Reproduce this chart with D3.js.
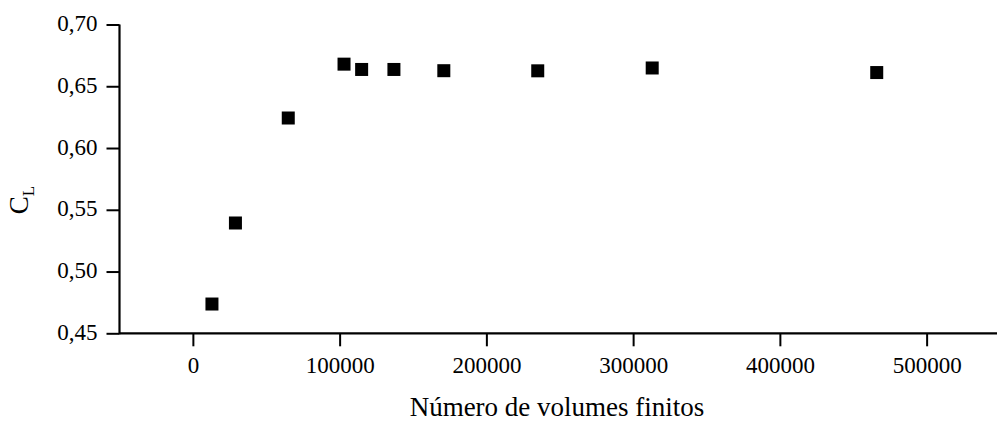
<!DOCTYPE html>
<html>
<head>
<meta charset="utf-8">
<script src="https://cdn.jsdelivr.net/npm/d3@7"></script>
<style>
  html, body { margin: 0; padding: 0; background: #fff; }
  svg { display: block; }
</style>
</head>
<body>
<svg id="chart" width="997" height="421"></svg>
<script>
// Mesh refinement study: lift coefficient vs number of finite volumes
const volumes = [13000, 29000, 65000, 103000, 115000, 137000, 171000, 235000, 313000, 466000];
const clValues = [0.4737, 0.5393, 0.6243, 0.6679, 0.6636, 0.6636, 0.6626, 0.6625, 0.6648, 0.6611];

const xMajorTicks = [0, 100000, 200000, 300000, 400000, 500000];
const xMinorTicks = [-50000, 50000, 150000, 250000, 350000, 450000, 550000];
const yMajorTicks = [0.45, 0.50, 0.55, 0.60, 0.65, 0.70];
const yMinorTicks = [0.475, 0.525, 0.575, 0.625, 0.675];
const xDomain = [-50000, 550000];
const yDomain = [0.45, 0.70];

const xTitle = "Número de volumes finitos";
const FONT = "'Liberation Serif', 'Times New Roman', serif";

const svg = d3.select("#chart");

const x = d3.scaleLinear().domain(xDomain).range([119.5, 1000]);
const y = d3.scaleLinear().domain(yDomain).range([333.3, 24.5]);

const fmtY = v => d3.format(".2f")(v).replace(".", ",");
const fmtX = d3.format("d");

// X axis: major + minor ticks
const gx = svg.append("g").attr("transform", `translate(0,${y(yDomain[0])})`);
gx.call(d3.axisBottom(x).tickValues(xMinorTicks).tickSize(7).tickFormat(""))
  .call(g => g.select(".domain").remove());
gx.call(d3.axisBottom(x).tickValues(xMajorTicks).tickSize(13).tickPadding(10).tickFormat(fmtX))
  .call(g => g.selectAll(".domain").remove());
gx.attr("font-family", FONT).attr("font-size", 23);
gx.selectAll("line").attr("stroke", "#000").attr("stroke-width", 2);
gx.selectAll("text")
  .attr("font-family", FONT).attr("font-size", 23)
  .attr("fill", "#000").attr("dy", "0.71em");
gx.append("line")
  .attr("x1", x(xDomain[0])).attr("x2", x(xDomain[1]))
  .attr("stroke", "#000").attr("stroke-width", 2.2);

// Y axis: major + minor ticks
const gy = svg.append("g").attr("transform", `translate(${x(xDomain[0])},0)`);
gy.call(d3.axisLeft(y).tickValues(yMinorTicks).tickSize(7).tickFormat(""))
  .call(g => g.select(".domain").remove());
gy.call(d3.axisLeft(y).tickValues(yMajorTicks).tickSize(13).tickPadding(9).tickFormat(fmtY))
  .call(g => g.selectAll(".domain").remove());
gy.attr("font-family", FONT).attr("font-size", 23);
gy.selectAll("line").attr("stroke", "#000").attr("stroke-width", 2);
gy.selectAll("text")
  .attr("font-family", FONT).attr("font-size", 23)
  .attr("fill", "#000").attr("dy", "0.27em");
gy.append("line")
  .attr("y1", y(yDomain[0]) + 1).attr("y2", y(yDomain[1]))
  .attr("stroke", "#000").attr("stroke-width", 2.2);

// Data markers: filled squares
const s = 13;
svg.append("g").selectAll("rect")
  .data(volumes.map((v, i) => [v, clValues[i]]))
  .join("rect")
  .attr("x", d => x(d[0]) - s / 2)
  .attr("y", d => y(d[1]) - s / 2)
  .attr("width", s)
  .attr("height", s)
  .attr("fill", "#000");

// Axis titles
svg.append("text")
  .attr("x", 557)
  .attr("y", 416)
  .attr("text-anchor", "middle")
  .attr("font-family", FONT)
  .attr("font-size", 27)
  .attr("fill", "#000")
  .text(xTitle);

const yt = svg.append("text")
  .attr("transform", "translate(28,200) rotate(-90)")
  .attr("text-anchor", "middle")
  .attr("font-family", FONT)
  .attr("font-size", 27)
  .attr("fill", "#000");
yt.append("tspan").text("C");
yt.append("tspan").attr("font-size", 17).attr("dy", 6).text("L");
</script>
</body>
</html>
